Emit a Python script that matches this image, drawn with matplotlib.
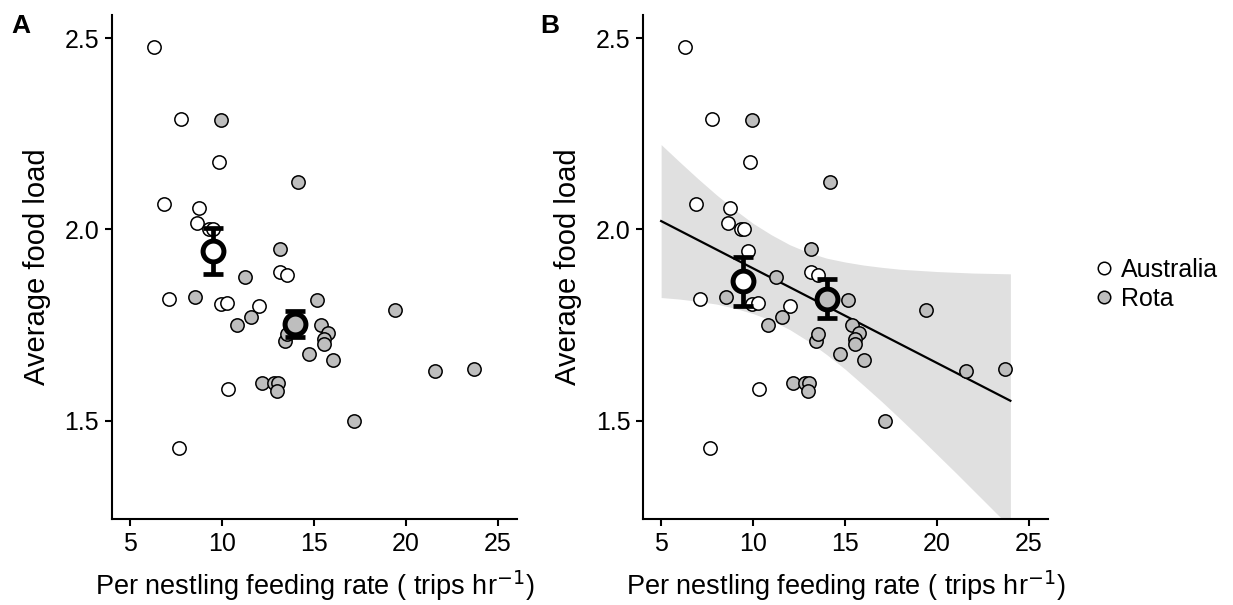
"""Food load against per-nestling feeding rate, Australia vs Rota."""

import matplotlib

matplotlib.use("Agg")
from matplotlib import pyplot as plt
from matplotlib.lines import Line2D

plt.rcParams["font.family"] = ["Liberation Sans", "DejaVu Sans"]

# Individual nests
australia_rate = [6.32, 7.77, 9.86, 6.87, 8.74, 8.66, 9.32, 9.53, 9.74, 7.10,
                  9.93, 10.28, 12.00, 13.14, 13.54, 10.33, 7.68]
australia_load = [2.478, 2.289, 2.176, 2.067, 2.055, 2.018, 2.001, 2.000, 1.945, 1.818,
                  1.804, 1.808, 1.800, 1.889, 1.881, 1.584, 1.429]

rota_rate = [9.97, 14.16, 13.18, 11.24, 8.52, 11.58, 10.80, 15.16, 15.38, 15.79,
             15.57, 15.57, 13.43, 13.52, 14.74, 16.03, 12.17, 12.85, 13.04, 13.00,
             17.17, 19.42, 21.58, 23.73]
rota_load = [2.286, 2.125, 1.949, 1.875, 1.823, 1.772, 1.750, 1.815, 1.750, 1.729,
             1.713, 1.700, 1.707, 1.727, 1.675, 1.659, 1.599, 1.599, 1.599, 1.578,
             1.500, 1.789, 1.630, 1.634]

# Group means +/- SE: raw (A) and model-adjusted (B); order is Australia, Rota
mean_rate_a = [9.50, 13.98]
mean_load_a = [1.944, 1.752]
mean_lower_a = [1.884, 1.718]
mean_upper_a = [2.005, 1.787]

mean_rate_b = [9.47, 14.00]
mean_load_b = [1.865, 1.818]
mean_lower_b = [1.800, 1.768]
mean_upper_b = [1.929, 1.870]

# Fitted regression and its 95% confidence band (panel B)
fit_rate = [5.0, 24.0]
fit_load = [2.022, 1.552]
band_rate = [5, 6, 7, 8, 9, 10, 11, 12, 13, 14, 15, 16, 17, 18, 19, 20, 21, 22, 23, 24]
band_upper = [2.222, 2.177, 2.133, 2.091, 2.052, 2.016, 1.986, 1.960, 1.940, 1.925,
              1.915, 1.907, 1.901, 1.896, 1.893, 1.890, 1.888, 1.886, 1.885, 1.884]
band_lower = [1.822, 1.818, 1.812, 1.805, 1.794, 1.780, 1.762, 1.738, 1.708, 1.673,
              1.635, 1.593, 1.550, 1.505, 1.459, 1.412, 1.365, 1.317, 1.269, 1.221]

x_ticks = [5, 10, 15, 20, 25]
y_ticks = [1.5, 2.0, 2.5]
sites = ["Australia", "Rota"]
site_fill = ["white", "#bebebe"]

XLABEL_SIZE = 19.5
YLABEL_SIZE = 21
TICK_SIZE = 18


def _draw_points(axis):
    """Scatter the individual nests for both sites."""
    for rate, load, fill in ((australia_rate, australia_load, site_fill[0]),
                             (rota_rate, rota_load, site_fill[1])):
        axis.scatter(rate, load, s=92, facecolor=fill, edgecolor="black",
                     linewidth=1.1, zorder=3)


def _draw_means(axis, rates, loads, lowers, uppers):
    """Group means with standard-error bars."""
    for i, fill in enumerate(site_fill):
        err = [[loads[i] - lowers[i]], [uppers[i] - loads[i]]]
        axis.errorbar([rates[i]], [loads[i]], yerr=err, fmt="none", ecolor="black",
                      elinewidth=3.4, capsize=7.5, capthick=3.4, zorder=4)
        axis.plot([rates[i]], [loads[i]], marker="o", markersize=15,
                  markerfacecolor=fill, markeredgecolor="black",
                  markeredgewidth=3.6, zorder=5)


def _style_axis(axis):
    axis.set_xlim(4.0, 26.05)
    axis.set_ylim(1.242, 2.561)
    axis.set_xticks(x_ticks)
    axis.set_yticks(y_ticks)
    axis.set_yticklabels([f"{v:.1f}" for v in y_ticks])
    for side in ("top", "right"):
        axis.spines[side].set_visible(False)
    for side in ("left", "bottom"):
        axis.spines[side].set_linewidth(1.5)
    axis.tick_params(length=5, width=1.5, labelsize=TICK_SIZE, pad=4, colors="black")
    axis.set_xlabel(r"Per nestling feeding rate ( trips hr$^{-1}$)", fontsize=XLABEL_SIZE,
                    labelpad=9)
    axis.set_ylabel("Average food load", fontsize=YLABEL_SIZE, labelpad=10)


fig = plt.figure(figsize=(12.33, 6.05), dpi=100)
ax_a = fig.add_axes([0.0906, 0.1417, 0.3287, 0.8335])
ax_b = fig.add_axes([0.5213, 0.1417, 0.3287, 0.8335])

# Panel A: raw data with raw means
_draw_points(ax_a)
_draw_means(ax_a, mean_rate_a, mean_load_a, mean_lower_a, mean_upper_a)
_style_axis(ax_a)

# Panel B: regression fit, band and adjusted means
ax_b.fill_between(band_rate, band_lower, band_upper, color="#e0e0e0", linewidth=0, zorder=1)
ax_b.plot(fit_rate, fit_load, color="black", linewidth=1.6, zorder=2)
_draw_points(ax_b)
_draw_means(ax_b, mean_rate_b, mean_load_b, mean_lower_b, mean_upper_b)
_style_axis(ax_b)

for tag, x_pos in (("A", 0.0165), ("B", 0.446)):
    fig.text(x_pos, 0.957, tag, fontsize=19, fontweight="bold", va="center", ha="center")

handles = [
    Line2D([], [], linestyle="none", marker="o", markersize=9, markerfacecolor=fill,
           markeredgecolor="black", markeredgewidth=1.1, label=site)
    for site, fill in zip(sites, site_fill)
]
fig.legend(handles=handles, loc="center left", bbox_to_anchor=(0.875, 0.53),
           frameon=False, fontsize=TICK_SIZE, handletextpad=0.1, labelspacing=0.2,
           handlelength=1.2, borderaxespad=0)

fig.savefig("out.png", dpi=100)
